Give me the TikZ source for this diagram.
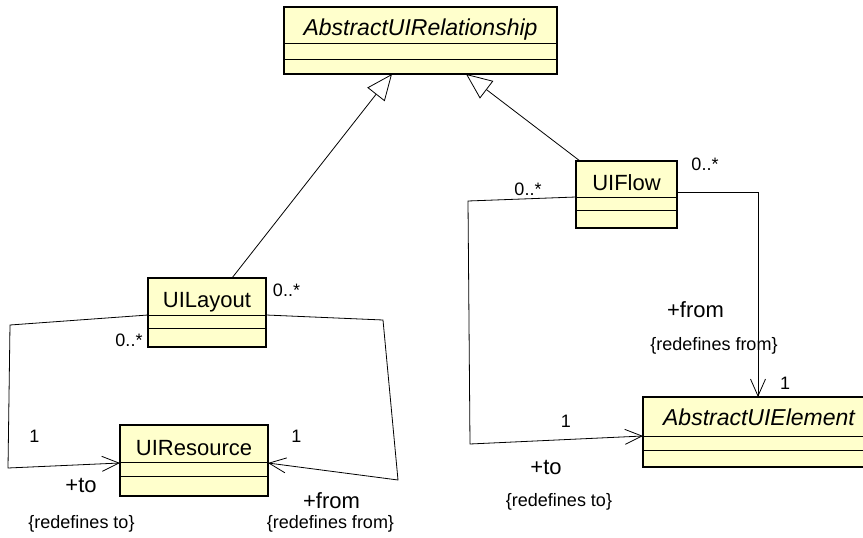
\documentclass[tikz,border=0pt]{standalone}
\usepackage{fontspec}
\setmainfont{Liberation Sans}
\usetikzlibrary{arrows.meta,calc}
\definecolor{clsfill}{RGB}{255,255,204}
\begin{document}
\begin{tikzpicture}[x=1pt,y=-1pt,
  cls/.style={draw=black, line width=1.6pt, fill=clsfill, anchor=north west, inner sep=0pt, outer sep=0pt},
  clsname/.style={anchor=base, inner sep=0pt, font=\fontsize{22}{26}\selectfont},
  absname/.style={clsname, font=\fontsize{23}{27}\selectfont\itshape},
  mult/.style={anchor=base, inner sep=0pt, font=\fontsize{18}{21}\selectfont},
  role/.style={anchor=base, inner sep=0pt, font=\fontsize{22}{26}\selectfont},
  cons/.style={anchor=base, inner sep=0pt, font=\fontsize{18}{21}\selectfont},
  comp/.style={line width=0.8pt},
  gen/.style={draw, line width=0.8pt, -{Triangle[open, length=26pt, width=22pt]}},
  assoc/.style={draw, line width=0.8pt, -{Straight Barb[length=17pt, width=15pt]}},
]
\useasboundingbox (0,0) rectangle (863,538);
\clip (0,0) rectangle (863,538);

% classes
\node[cls, minimum width=273pt, minimum height=67pt] (rel) at (284,7) {};
\draw[comp] ([yshift=-36pt]rel.north west) -- ([yshift=-36pt]rel.north east);
\draw[comp] ([yshift=-52pt]rel.north west) -- ([yshift=-52pt]rel.north east);
\node[absname] (reltext) at ([yshift=-28pt]rel.north) {AbstractUIRelationship};

\node[cls, minimum width=118pt, minimum height=69pt] (layout) at (148,278) {};
\draw[comp] ([yshift=-37pt]layout.north west) -- ([yshift=-37pt]layout.north east);
\draw[comp] ([yshift=-50pt]layout.north west) -- ([yshift=-50pt]layout.north east);
\node[clsname] (layouttext) at ([yshift=-29pt]layout.north) {UILayout};

\node[cls, minimum width=148pt, minimum height=71pt] (resource) at (120,425) {};
\draw[comp] ([yshift=-37pt]resource.north west) -- ([yshift=-37pt]resource.north east);
\draw[comp] ([yshift=-51pt]resource.north west) -- ([yshift=-51pt]resource.north east);
\node[clsname] (resourcetext) at ([yshift=-30pt]resource.north) {UIResource};

\node[cls, minimum width=101pt, minimum height=67pt] (flow) at (576,161) {};
\draw[comp] ([yshift=-36pt]flow.north west) -- ([yshift=-36pt]flow.north east);
\draw[comp] ([yshift=-49pt]flow.north west) -- ([yshift=-49pt]flow.north east);
\node[clsname] (flowtext) at ([yshift=-29pt]flow.north) {UIFlow};

\node[cls, minimum width=232pt, minimum height=70pt] (elem) at (643,397) {};
\draw[comp] ([yshift=-39pt]elem.north west) -- ([yshift=-39pt]elem.north east);
\draw[comp] ([yshift=-53pt]elem.north west) -- ([yshift=-53pt]elem.north east);
\node[absname] (elemtext) at ([yshift=-28pt]elem.north) {AbstractUIElement};

% generalizations
\draw[gen] ([xshift=25pt]layout.north) -- ([xshift=-28.5pt]rel.south);
\draw[gen] ([xshift=4pt]flow.north west) -- ([xshift=45.5pt]rel.south);

% associations
\draw[assoc] ([yshift=-2.5pt]layout.west) -- (10,325) -- (8,468) -- ([yshift=-2.5pt]resource.west);
\draw[assoc] ([yshift=-2.5pt]layout.east) -- (383,320) -- (398,480) -- ([yshift=-2.5pt]resource.east);
\draw[assoc] ([yshift=-2.5pt]flow.west) -- (468,201) -- (470,444) -- ([yshift=-4pt]elem.west);
\draw[assoc] ([yshift=2.5pt]flow.east) -| ([xshift=-1pt]elem.north);

% labels
\node[mult] (m1) at (286.5,296) {0..*};
\node[mult] (m2) at (129,346) {0..*};
\node[mult] (m3) at (34.5,442) {1};
\node[mult] (m4) at (296.5,442) {1};
\node[role] (r1) at (81,492) {+to};
\node[cons] (c1) at (81.5,528) {\{redefines to\}};
\node[role] (r2) at (331.5,508) {+from};
\node[cons] (c2) at (330.5,528) {\{redefines from\}};

\node[mult] (m5) at (528,195) {0..*};
\node[mult] (m6) at (705,170) {0..*};
\node[role] (r3) at (695.5,317) {+from};
\node[cons] (c3) at (714,350) {\{redefines from\}};
\node[mult] (m7) at (785,389) {1};
\node[mult] (m8) at (566,427) {1};
\node[role] (r4) at (546,474) {+to};
\node[cons] (c4) at (559,506) {\{redefines to\}};
\end{tikzpicture}
\end{document}
